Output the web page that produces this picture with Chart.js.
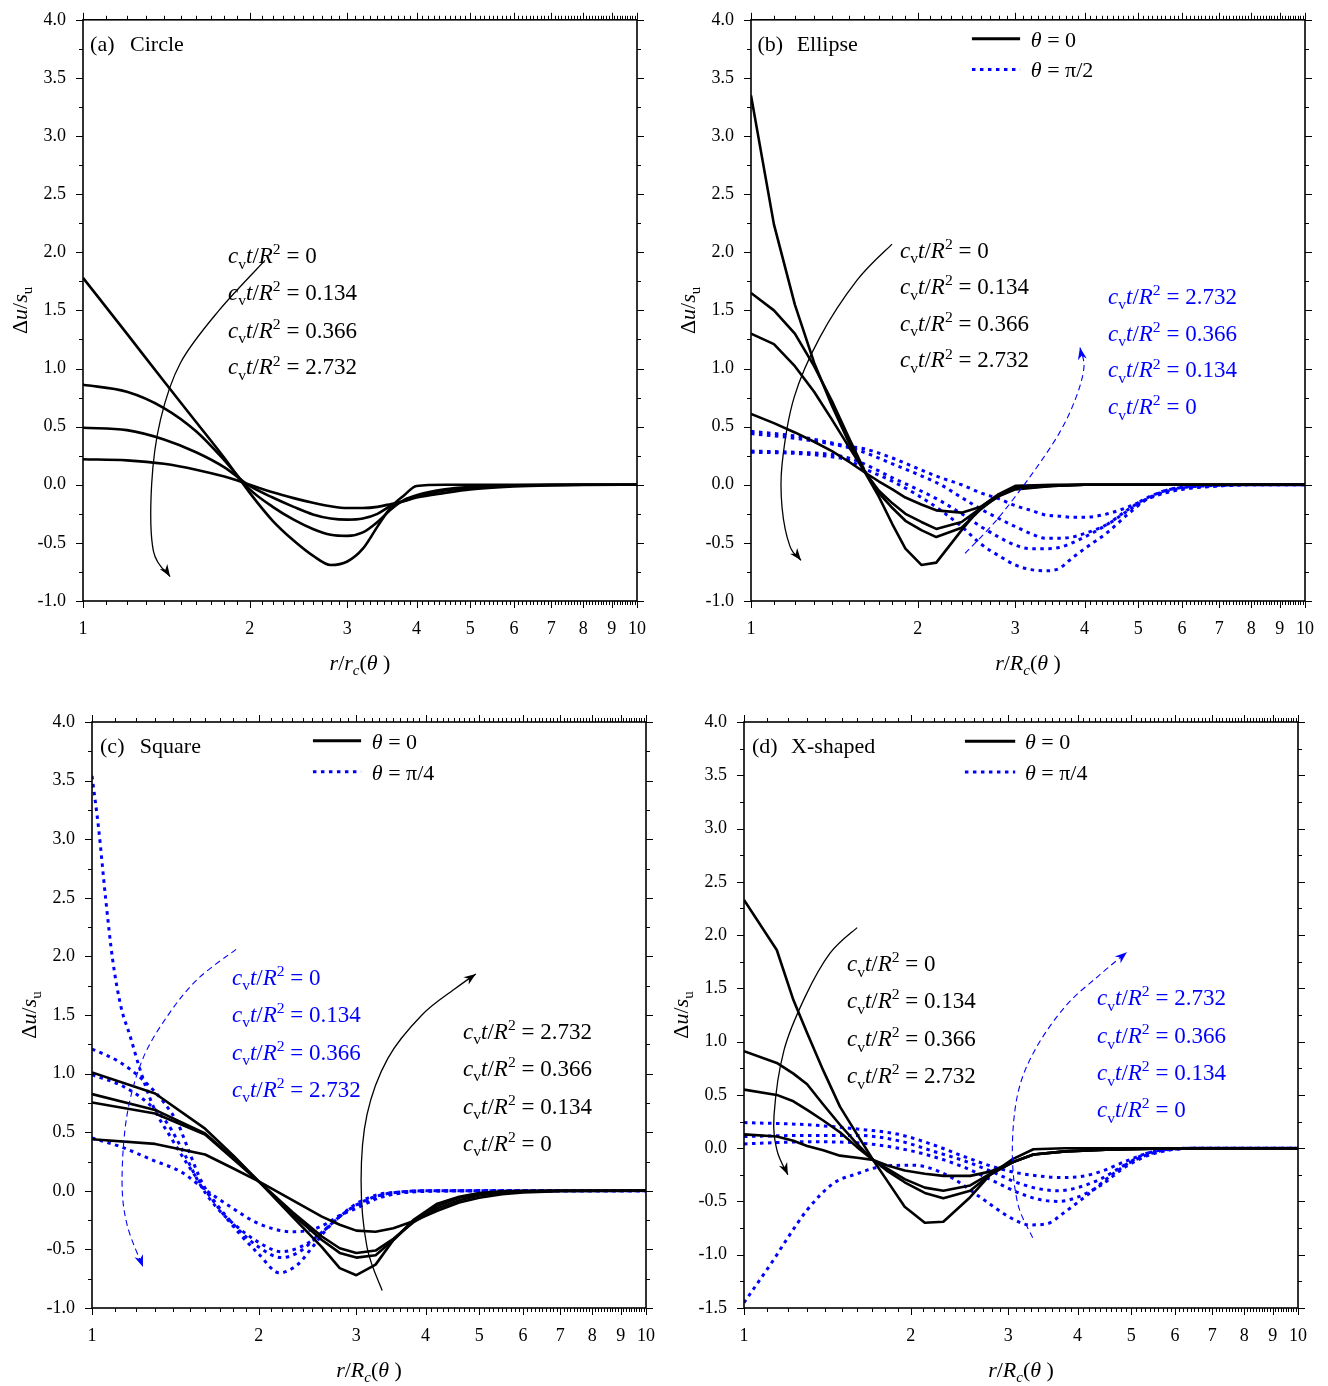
<!DOCTYPE html>
<html lang="en">
  <head>
    <meta charset="UTF-8" />
    <title>Excess pore pressure around the cavity</title>
    <script src="https://cdn.jsdelivr.net/npm/chart.js"></script>
    <style>
      body { margin: 0; background: #fff; width: 1328px; height: 1386px; position: relative; overflow: hidden; }
      .painel { position: absolute; width: 664px; height: 693px; }
    </style>
  </head>
  <body>
    <div class="painel" style="left:0;top:0"><canvas id="grafA" width="664" height="693"></canvas></div>
    <div class="painel" style="left:664px;top:0"><canvas id="grafB" width="664" height="693"></canvas></div>
    <div class="painel" style="left:0;top:693px"><canvas id="grafC" width="664" height="693"></canvas></div>
    <div class="painel" style="left:664px;top:693px"><canvas id="grafD" width="664" height="693"></canvas></div>
  </body>
</html>

<script>
  // tick labels
  const xTicks = [1, 2, 3, 4, 5, 6, 7, 8, 9, 10];
  const yTicks = [-1, -0.5, 0, 0.5, 1, 1.5, 2, 2.5, 3, 3.5, 4];
  const yTicksD = [-1.5, -1, -0.5, 0, 0.5, 1, 1.5, 2, 2.5, 3, 3.5, 4];
  const tDown = ["0", "0.134", "0.366", "2.732"];
  const tUp = ["2.732", "0.366", "0.134", "0"];

  // (a) circle
  const aX = [1, 1.2, 1.4, 1.6, 1.8, 2.0, 2.2, 2.4, 2.6, 2.8, 3.0, 3.2, 3.4, 3.6, 3.8, 4.0, 4.5, 5, 6, 7, 8, 10];
  const aT0 = [1.78, 1.30, 0.89, 0.54, 0.23, -0.07, -0.31, -0.48, -0.61, -0.69, -0.66, -0.55, -0.36, -0.19, -0.09, -0.01, 0, 0, 0, 0, 0, 0];
  const aT1 = [0.86, 0.80, 0.66, 0.46, 0.21, -0.04, -0.19, -0.30, -0.38, -0.43, -0.44, -0.41, -0.32, -0.21, -0.13, -0.09, -0.04, -0.02, -0.005, 0, 0, 0];
  const aT2 = [0.49, 0.47, 0.39, 0.28, 0.15, -0.01, -0.11, -0.19, -0.255, -0.29, -0.30, -0.29, -0.25, -0.18, -0.14, -0.10, -0.05, -0.025, -0.008, -0.002, 0, 0];
  const aT3 = [0.22, 0.21, 0.18, 0.13, 0.07, 0.0, -0.065, -0.115, -0.155, -0.185, -0.20, -0.20, -0.19, -0.165, -0.14, -0.11, -0.07, -0.04, -0.015, -0.005, -0.001, 0];

  // (b) ellipse, solid = theta 0, dotted = theta pi/2
  const bXs = [1, 1.1, 1.2, 1.3, 1.4, 1.5, 1.6, 1.7, 1.8, 1.9, 2.03, 2.16, 2.4, 2.6, 2.8, 3.0, 3.5, 4, 5, 6, 10];
  const bS0 = [3.35, 2.24, 1.55, 1.05, 0.68, 0.37, 0.12, -0.10, -0.34, -0.55, -0.69, -0.67, -0.39, -0.19, -0.08, -0.01, 0, 0, 0, 0, 0];
  const bS1 = [1.65, 1.50, 1.30, 1.02, 0.72, 0.41, 0.13, -0.07, -0.20, -0.31, -0.39, -0.45, -0.37, -0.21, -0.09, -0.03, -0.01, 0, 0, 0, 0];
  const bS2 = [1.30, 1.21, 1.02, 0.80, 0.56, 0.33, 0.12, -0.05, -0.16, -0.25, -0.32, -0.38, -0.32, -0.20, -0.10, -0.04, -0.01, 0, 0, 0, 0];
  const bS3 = [0.61, 0.53, 0.45, 0.37, 0.29, 0.20, 0.11, 0.03, -0.04, -0.11, -0.17, -0.22, -0.24, -0.19, -0.09, -0.02, -0.005, 0, 0, 0, 0];
  const bXd = [1, 1.2, 1.4, 1.5, 1.6, 1.8, 2.0, 2.2, 2.4, 2.6, 2.8, 3.0, 3.2, 3.4, 3.6, 3.8, 4.0, 4.4, 4.8, 5.2, 5.6, 6, 7, 8, 10];
  const bD0 = [0.28, 0.27, 0.24, 0.21, 0.14, 0.03, -0.09, -0.22, -0.36, -0.51, -0.61, -0.69, -0.73, -0.74, -0.72, -0.63, -0.55, -0.41, -0.25, -0.12, -0.05, -0.02, 0, 0, 0];
  const bD1 = [0.29, 0.28, 0.26, 0.23, 0.18, 0.06, -0.04, -0.14, -0.25, -0.36, -0.45, -0.52, -0.55, -0.55, -0.54, -0.50, -0.45, -0.34, -0.21, -0.11, -0.05, -0.025, -0.005, 0, 0];
  const bD2 = [0.44, 0.40, 0.35, 0.32, 0.28, 0.18, 0.09, 0.0, -0.11, -0.21, -0.29, -0.36, -0.42, -0.46, -0.46, -0.45, -0.42, -0.34, -0.22, -0.12, -0.06, -0.03, -0.01, 0, 0];
  const bD3 = [0.46, 0.42, 0.36, 0.33, 0.31, 0.23, 0.14, 0.06, 0.0, -0.07, -0.12, -0.18, -0.22, -0.26, -0.27, -0.28, -0.28, -0.25, -0.19, -0.12, -0.07, -0.04, -0.01, 0, 0];

  // (c) square, solid = theta 0, dotted = theta pi/4
  const cXs = [1, 1.3, 1.6, 1.8, 2.0, 2.3, 2.6, 2.8, 3.0, 3.25, 3.5, 3.8, 4.2, 4.6, 5, 5.5, 6, 7, 10];
  const cS0 = [1.01, 0.83, 0.53, 0.30, 0.08, -0.22, -0.48, -0.66, -0.72, -0.63, -0.42, -0.25, -0.11, -0.05, -0.02, -0.005, 0, 0, 0];
  const cS1 = [0.825, 0.69, 0.49, 0.28, 0.08, -0.20, -0.42, -0.53, -0.57, -0.55, -0.42, -0.26, -0.13, -0.06, -0.03, -0.01, -0.005, 0, 0];
  const cS2 = [0.754, 0.66, 0.48, 0.27, 0.08, -0.18, -0.39, -0.49, -0.53, -0.51, -0.41, -0.27, -0.15, -0.08, -0.04, -0.015, -0.007, 0, 0];
  const cS3 = [0.44, 0.40, 0.31, 0.19, 0.08, -0.08, -0.22, -0.29, -0.34, -0.35, -0.32, -0.26, -0.17, -0.10, -0.06, -0.03, -0.015, -0.004, 0];
  const cXd0 = [1, 1.028, 1.058, 1.089, 1.128, 1.17, 1.22, 1.29, 1.39, 1.49, 1.6, 1.72, 1.85, 2.0, 2.18, 2.35, 2.5, 2.65, 2.8, 3.0, 3.3, 3.6, 4, 10];
  const cD0 = [3.54, 3.09, 2.50, 1.98, 1.57, 1.33, 1.04, 0.72, 0.45, 0.22, 0.01, -0.19, -0.37, -0.54, -0.70, -0.63, -0.48, -0.33, -0.22, -0.11, -0.03, -0.01, 0, 0];
  const cXd1 = [1, 1.12, 1.24, 1.35, 1.43, 1.49, 1.58, 1.67, 1.82, 2.0, 2.2, 2.35, 2.5, 2.65, 2.8, 3.0, 3.3, 3.6, 4, 10];
  const cD1 = [1.21, 1.10, 0.94, 0.75, 0.57, 0.36, 0.07, -0.10, -0.31, -0.48, -0.57, -0.53, -0.43, -0.32, -0.22, -0.12, -0.04, -0.01, 0, 0];
  const cXd2 = [1, 1.14, 1.26, 1.37, 1.47, 1.56, 1.67, 1.8, 2.0, 2.2, 2.35, 2.5, 2.65, 2.8, 3.0, 3.3, 3.6, 4, 10];
  const cD2 = [0.99, 0.89, 0.75, 0.57, 0.31, 0.07, -0.13, -0.28, -0.44, -0.52, -0.49, -0.42, -0.32, -0.22, -0.13, -0.05, -0.015, 0, 0];
  const cXd3 = [1, 1.12, 1.29, 1.45, 1.6, 1.77, 2.0, 2.3, 2.5, 2.65, 2.8, 3.0, 3.3, 3.6, 4, 5, 10];
  const cD3 = [0.45, 0.38, 0.26, 0.16, 0.01, -0.13, -0.28, -0.35, -0.33, -0.28, -0.21, -0.15, -0.06, -0.02, -0.005, 0, 0];

  // (d) X-shaped, solid = theta 0, dotted = theta pi/4
  const dXs = [1, 1.146, 1.228, 1.3, 1.39, 1.49, 1.6, 1.71, 1.81, 1.95, 2.12, 2.29, 2.56, 2.78, 3.06, 3.33, 3.8, 4.5, 5.5, 7, 10];
  const dS0 = [2.33, 1.86, 1.39, 1.08, 0.73, 0.39, 0.13, -0.11, -0.30, -0.55, -0.70, -0.69, -0.46, -0.25, -0.10, -0.01, 0, 0, 0, 0, 0];
  const dS1 = [0.91, 0.80, 0.70, 0.60, 0.41, 0.22, 0.04, -0.11, -0.21, -0.32, -0.42, -0.47, -0.40, -0.25, -0.13, -0.06, -0.03, -0.015, -0.005, 0, 0];
  const dS2 = [0.55, 0.50, 0.44, 0.36, 0.26, 0.15, 0.01, -0.11, -0.19, -0.29, -0.37, -0.40, -0.35, -0.24, -0.13, -0.06, -0.03, -0.015, -0.005, 0, 0];
  const dS3 = [0.13, 0.11, 0.07, 0.02, -0.02, -0.07, -0.09, -0.11, -0.16, -0.21, -0.24, -0.26, -0.26, -0.22, -0.13, -0.06, -0.03, -0.015, -0.005, 0, 0];
  const dXd0 = [1, 1.13, 1.2, 1.3, 1.45, 1.6, 1.78, 2.02, 2.32, 2.67, 3.02, 3.28, 3.52, 3.77, 4.21, 4.64, 5.32, 6, 7, 10];
  const dD0 = [-1.45, -1.05, -0.84, -0.58, -0.33, -0.24, -0.17, -0.16, -0.25, -0.46, -0.65, -0.72, -0.71, -0.61, -0.42, -0.24, -0.05, -0.01, 0, 0];
  const dXd = [1, 1.3, 1.6, 1.9, 2.2, 2.5, 2.8, 3.1, 3.4, 3.7, 4.0, 4.4, 4.9, 5.5, 6.5, 10];
  const dD1 = [0.04, 0.06, 0.05, 0.0, -0.08, -0.18, -0.30, -0.41, -0.48, -0.50, -0.46, -0.35, -0.17, -0.05, 0, 0];
  const dD2 = [0.11, 0.12, 0.12, 0.07, -0.03, -0.12, -0.22, -0.32, -0.38, -0.40, -0.37, -0.29, -0.15, -0.04, 0, 0];
  const dD3 = [0.24, 0.22, 0.18, 0.13, 0.03, -0.08, -0.17, -0.23, -0.26, -0.275, -0.27, -0.22, -0.12, -0.03, 0, 0];

  const SERIF = '"Liberation Serif", "Times New Roman", serif';
  const BLUE = "#0000ff";
  const TXT = 23; // tamanho das anotacoes

  function pts(xs, ys) {
    return xs.map((x, i) => ({ x: x, y: ys[i] }));
  }
  function solid(xs, ys, smooth) {
    return {
      data: pts(xs, ys), borderColor: "#000", borderWidth: 2.6, pointRadius: 0,
      borderJoinStyle: "round", fill: false,
      cubicInterpolationMode: smooth ? "monotone" : "default", tension: 0,
    };
  }
  function dotted(xs, ys) {
    return {
      data: pts(xs, ys), borderColor: BLUE, borderWidth: 3, pointRadius: 0,
      borderDash: [3.5, 4.5], fill: false, cubicInterpolationMode: "monotone",
    };
  }

  // text made of runs: i = italic, s = 1 sup / -1 sub
  function drawRuns(ctx, runs, x, y, size, color, measure) {
    let cx = x;
    for (const r of runs) {
      let fs = size, dy = 0;
      if (r.s === 1) { fs = size * 0.68; dy = -size * 0.38; }
      if (r.s === -1) { fs = size * 0.68; dy = size * 0.24; }
      ctx.font = (r.i ? "italic " : "") + fs + "px " + SERIF;
      if (!measure) {
        ctx.fillStyle = color;
        ctx.fillText(r.t, cx, y + dy);
      }
      cx += ctx.measureText(r.t).width;
    }
    return cx - x;
  }
  const cvRuns = (v) => [
    { t: "c", i: 1 }, { t: "v", s: -1 }, { t: "t", i: 1 }, { t: "/" },
    { t: "R", i: 1 }, { t: "2", s: 1 }, { t: " = " + v },
  ];

  function drawArrow(ctx, p, color, dash) {
    ctx.save();
    ctx.strokeStyle = color;
    ctx.fillStyle = color;
    ctx.lineWidth = dash ? 1.1 : 1.3;
    ctx.setLineDash(dash ? [6, 4] : []);
    ctx.beginPath();
    ctx.moveTo(p[0].x, p[0].y);
    for (let i = 0; i < p.length - 1; i++) {
      const p0 = p[i - 1] || p[i], p1 = p[i], p2 = p[i + 1], p3 = p[i + 2] || p2;
      ctx.bezierCurveTo(
        p1.x + (p2.x - p0.x) / 6, p1.y + (p2.y - p0.y) / 6,
        p2.x - (p3.x - p1.x) / 6, p2.y - (p3.y - p1.y) / 6,
        p2.x, p2.y
      );
    }
    ctx.stroke();
    ctx.setLineDash([]);
    // ponta da seta
    const a = p[p.length - 2], b = p[p.length - 1];
    const len = Math.hypot(b.x - a.x, b.y - a.y) || 1;
    const ux = (b.x - a.x) / len, uy = (b.y - a.y) / len;
    const L = 12, W = 4.5;
    ctx.beginPath();
    ctx.moveTo(b.x, b.y);
    ctx.lineTo(b.x - ux * L - uy * W, b.y - uy * L + ux * W);
    ctx.lineTo(b.x - ux * L * 0.7, b.y - uy * L * 0.7);
    ctx.lineTo(b.x - ux * L + uy * W, b.y - uy * L - ux * W);
    ctx.closePath();
    ctx.fill();
    ctx.restore();
  }

  function drawDeco(chart, cfg) {
    const ctx = chart.ctx;
    const xs = chart.scales.x, ys = chart.scales.y;
    const { left, right, top, bottom } = chart.chartArea;
    const X = (v) => xs.getPixelForValue(v);
    const Y = (v) => ys.getPixelForValue(v);
    ctx.save();

    // moldura e ticks
    ctx.strokeStyle = "#000";
    ctx.lineWidth = 1.6;
    ctx.strokeRect(left, top, right - left, bottom - top);
    ctx.lineWidth = 1;
    ctx.beginPath();
    for (let k = 10; k <= 100; k++) {
      const px = Math.round(X(k / 10)) + 0.5;
      const L = k % 10 === 0 ? 7 : 4;
      ctx.moveTo(px, bottom); ctx.lineTo(px, bottom + L);
      ctx.moveTo(px, top); ctx.lineTo(px, top - L);
    }
    for (let v = cfg.ymin; v <= 4.0001; v += 0.25) {
      const py = Math.round(Y(v)) + 0.5;
      const major = Math.abs(v * 2 - Math.round(v * 2)) < 1e-6;
      const L = major ? 7 : 4;
      ctx.moveTo(left - L, py); ctx.lineTo(left, py);
      ctx.moveTo(right, py); ctx.lineTo(right + L, py);
    }
    ctx.stroke();

    // titulos dos eixos
    const xt = [
      { t: "r", i: 1 }, { t: "/" }, { t: cfg.rName, i: 1 }, { t: "c", i: 1, s: -1 },
      { t: "(" }, { t: "θ", i: 1 }, { t: " )" },
    ];
    const w = drawRuns(ctx, xt, 0, 0, 22, "#000", true);
    drawRuns(ctx, xt, (left + right) / 2 - w / 2, bottom + 69, 22, "#000");
    const yt = [{ t: "Δ" }, { t: "u", i: 1 }, { t: "/" }, { t: "s", i: 1 }, { t: "u", s: -1 }];
    const wy = drawRuns(ctx, yt, 0, 0, 22, "#000", true);
    ctx.save();
    ctx.translate(left - 56, (top + bottom) / 2 + wy / 2);
    ctx.rotate(-Math.PI / 2);
    drawRuns(ctx, yt, 0, 0, 22, "#000");
    ctx.restore();

    // rotulo do painel
    drawRuns(ctx, [{ t: cfg.tag }], X(cfg.tagX), Y(cfg.tagY), 22, "#000");
    drawRuns(ctx, [{ t: cfg.name }], X(cfg.nameX), Y(cfg.tagY), 22, "#000");

    // legenda
    if (cfg.legend) {
      const lg = cfg.legend;
      ctx.lineWidth = 3;
      ctx.strokeStyle = "#000";
      ctx.beginPath();
      ctx.moveTo(X(lg.x0), Y(lg.y0)); ctx.lineTo(X(lg.x1), Y(lg.y0));
      ctx.stroke();
      ctx.strokeStyle = BLUE;
      ctx.setLineDash([3.5, 4.5]);
      ctx.beginPath();
      ctx.moveTo(X(lg.x0), Y(lg.y1)); ctx.lineTo(X(lg.x1), Y(lg.y1));
      ctx.stroke();
      ctx.setLineDash([]);
      drawRuns(ctx, [{ t: "θ", i: 1 }, { t: " = 0" }], X(lg.tx), Y(lg.y0) + 8, 22, "#000");
      drawRuns(ctx, [{ t: "θ", i: 1 }, { t: " = " + lg.ang }], X(lg.tx), Y(lg.y1) + 8, 22, "#000");
    }

    // textos c_v t / R^2
    for (const g of cfg.texts) {
      g.ys.forEach((yv, i) => drawRuns(ctx, cvRuns(g.vals[i]), X(g.x), Y(yv), TXT, g.color));
    }
    // setas
    for (const a of cfg.arrows) {
      drawArrow(ctx, a.pts.map((q) => ({ x: X(q[0]), y: Y(q[1]) })), a.color, a.dash);
    }
    ctx.restore();
  }

  function montarPainel(id, geo, datasets, cfg) {
    const fonte = { family: SERIF, size: 18 };
    new Chart(document.getElementById(id), {
      type: "line",
      data: { datasets: datasets },
      options: {
        responsive: false,
        animation: false,
        devicePixelRatio: 1,
        layout: { padding: { left: 0, right: geo.pr, top: geo.pt, bottom: 0 } },
        plugins: { legend: { display: false }, tooltip: { enabled: false } },
        scales: {
          x: {
            type: "logarithmic", min: 1, max: 10,
            afterBuildTicks: (s) => { s.ticks = xTicks.map((v) => ({ value: v })); },
            afterFit: (s) => { s.height = geo.xh; },
            grid: { display: false }, border: { display: false },
            ticks: { font: fonte, color: "#000", padding: 9, maxRotation: 0, autoSkip: false, callback: (v) => String(v) },
          },
          y: {
            type: "linear", min: geo.ymin, max: 4,
            afterBuildTicks: (s) => { s.ticks = geo.yt.map((v) => ({ value: v })); },
            afterFit: (s) => { s.width = geo.yw; },
            grid: { display: false }, border: { display: false },
            ticks: { font: fonte, color: "#000", padding: 9, callback: (v) => Number(v).toFixed(1) },
          },
        },
      },
      plugins: [{ id: "deco", afterDraw: (chart) => drawDeco(chart, cfg) }],
    });
  }

  // (a)
  montarPainel("grafA", { pr: 27, pt: 16, yw: 83, xh: 92, ymin: -1, yt: yTicks },
    [solid(aX, aT0, true), solid(aX, aT1, true), solid(aX, aT2, true), solid(aX, aT3, true)],
    {
      ymin: -1, rName: "r", tag: "(a)", name: "Circle", tagX: 1.03, nameX: 1.216, tagY: 3.735,
      texts: [{ x: 1.827, ys: [1.906, 1.59, 1.265, 0.949], vals: tDown, color: "#000" }],
      arrows: [{ color: "#000", dash: false, pts: [[2.13, 1.93], [1.76, 1.5], [1.5, 1.05], [1.38, 0.56], [1.33, 0.0], [1.34, -0.57], [1.436, -0.79]] }],
    });

  // (b)
  montarPainel("grafB", { pr: 23, pt: 16, yw: 87, xh: 92, ymin: -1, yt: yTicks },
    [solid(bXs, bS0), solid(bXs, bS1), solid(bXs, bS2), solid(bXs, bS3),
     dotted(bXd, bD0), dotted(bXd, bD1), dotted(bXd, bD2), dotted(bXd, bD3)],
    {
      ymin: -1, rName: "R", tag: "(b)", name: "Ellipse", tagX: 1.027, nameX: 1.209, tagY: 3.735,
      legend: { x0: 2.505, x1: 3.06, y0: 3.838, y1: 3.573, tx: 3.2, ang: "π/2" },
      texts: [
        { x: 1.858, ys: [1.954, 1.64, 1.325, 1.01], vals: tDown, color: "#000" },
        { x: 4.41, ys: [1.556, 1.239, 0.923, 0.607], vals: tUp, color: BLUE },
      ],
      arrows: [
        { color: "#000", dash: false, pts: [[1.797, 2.07], [1.554, 1.76], [1.332, 1.27], [1.196, 0.75], [1.138, 0.18], [1.138, -0.2], [1.176, -0.53], [1.231, -0.65]] },
        { color: BLUE, dash: true, pts: [[2.434, -0.59], [2.768, -0.31], [3.19, 0.07], [3.597, 0.44], [3.86, 0.75], [3.99, 1.01], [3.925, 1.18]] },
      ],
    });

  // (c)
  montarPainel("grafC", { pr: 18, pt: 29, yw: 92, xh: 78, ymin: -1, yt: yTicks },
    [solid(cXs, cS0), solid(cXs, cS1), solid(cXs, cS2), solid(cXs, cS3),
     dotted(cXd0, cD0), dotted(cXd1, cD1), dotted(cXd2, cD2), dotted(cXd3, cD3)],
    {
      ymin: -1, rName: "R", tag: "(c)", name: "Square", tagX: 1.034, nameX: 1.22, tagY: 3.737,
      legend: { x0: 2.505, x1: 3.06, y0: 3.84, y1: 3.575, tx: 3.2, ang: "π/4" },
      texts: [
        { x: 1.789, ys: [1.758, 1.442, 1.118, 0.802], vals: tDown, color: BLUE },
        { x: 4.675, ys: [1.297, 0.981, 0.657, 0.341], vals: tUp, color: "#000" },
      ],
      arrows: [
        { color: BLUE, dash: true, pts: [[1.82, 2.06], [1.554, 1.81], [1.377, 1.51], [1.236, 1.13], [1.157, 0.65], [1.133, 0.09], [1.157, -0.29], [1.236, -0.65]] },
        { color: "#000", dash: false, pts: [[3.34, -0.85], [3.136, -0.48], [3.06, 0.085], [3.136, 0.65], [3.42, 1.13], [3.94, 1.5], [4.54, 1.73], [4.93, 1.85]] },
      ],
    });

  // (d)
  montarPainel("grafD", { pr: 30, pt: 29, yw: 80, xh: 78, ymin: -1.5, yt: yTicksD },
    [solid(dXs, dS0), solid(dXs, dS1), solid(dXs, dS2), solid(dXs, dS3),
     dotted(dXd0, dD0), dotted(dXd, dD1), dotted(dXd, dD2), dotted(dXd, dD3)],
    {
      ymin: -1.5, rName: "R", tag: "(d)", name: "X-shaped", tagX: 1.034, nameX: 1.216, tagY: 3.709,
      legend: { x0: 2.505, x1: 3.087, y0: 3.82, y1: 3.53, tx: 3.215, ang: "π/4" },
      texts: [
        { x: 1.534, ys: [1.662, 1.315, 0.958, 0.61], vals: tDown, color: "#000" },
        { x: 4.337, ys: [1.343, 0.986, 0.638, 0.291], vals: tUp, color: BLUE },
      ],
      arrows: [
        { color: "#000", dash: false, pts: [[1.6, 2.07], [1.43, 1.83], [1.289, 1.42], [1.181, 0.92], [1.133, 0.31], [1.147, -0.02], [1.2, -0.25]] },
        { color: BLUE, dash: true, pts: [[3.32, -0.84], [3.12, -0.52], [3.05, -0.03], [3.12, 0.51], [3.35, 0.92], [3.8, 1.33], [4.37, 1.62], [4.91, 1.84]] },
      ],
    });
</script>
